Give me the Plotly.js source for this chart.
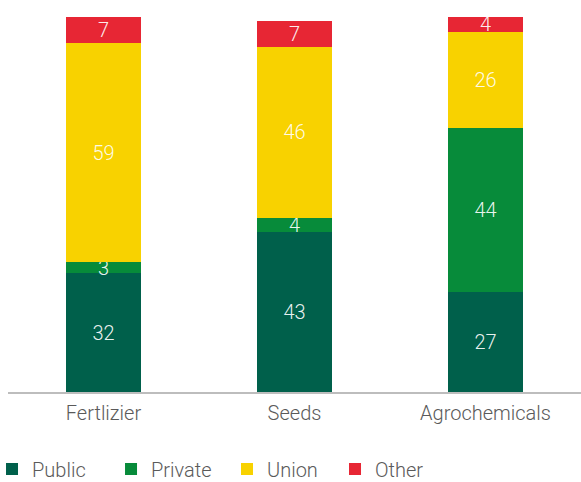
<!DOCTYPE html>
<html>
<head>
<meta charset="utf-8">
<script src="https://cdn.plot.ly/plotly-3.0.1.min.js"></script>
<style>html,body{margin:0;padding:0;background:#fff;}#chart{width:581px;height:482px;}</style>
</head>
<body>
<div id="chart"></div>
<script>
const categories = ["Fertlizier", "Seeds", "Agrochemicals"];
const publicVals = [32, 43, 27];
const privateVals = [3, 4, 44];
const unionVals = [59, 46, 26];
const otherVals = [7, 7, 4];
const seriesNames = ["Public", "Private", "Union", "Other"];
const seriesColors = ["#00604b", "#078b3a", "#f8d200", "#e72634"];
const seriesVals = [publicVals, privateVals, unionVals, otherVals];
const legendIds = ["legend", "legend2", "legend3", "legend4"];
const legendX = [-0.0279, 0.1798, 0.3822, 0.5707];

const traces = seriesVals.map((vals, i) => ({
  type: "bar",
  name: seriesNames[i],
  legend: legendIds[i],
  x: categories,
  y: vals,
  text: vals.map(String),
  textposition: "inside",
  insidetextanchor: "middle",
  textangle: 0,
  constraintext: "none",
  textfont: {color: "rgba(255,255,255,0.92)", size: 20, family: "Roboto, sans-serif", weight: 300},
  marker: {color: seriesColors[i], line: {width: 0}},
  width: 0.39,
  hoverinfo: "none"
}));

const layout = {
  width: 581,
  height: 482,
  barmode: "stack",
  margin: {l: 8, r: 0, t: 17, b: 90, autoexpand: false},
  paper_bgcolor: "#ffffff",
  plot_bgcolor: "#ffffff",
  font: {family: "Roboto, sans-serif", size: 20, color: "#5a5a5a"},
  xaxis: {
    type: "category",
    range: [-0.5, 2.5],
    showline: true,
    linecolor: "#bdbdbd",
    linewidth: 2,
    showgrid: false,
    zeroline: false,
    ticks: "",
    automargin: false,
    ticklabelstandoff: 2,
    tickfont: {size: 20, color: "#5a5a5a", weight: 300}
  },
  yaxis: {
    range: [0, 101],
    visible: false,
    showgrid: false,
    zeroline: false
  },
  showlegend: true
};

legendIds.forEach((id, i) => {
  layout[id] = {
    orientation: "h",
    x: legendX[i],
    xanchor: "left",
    y: -0.2053,
    yanchor: "middle",
    bgcolor: "rgba(0,0,0,0)",
    font: {size: 20, color: "#5a5a5a", weight: 300}
  };
});

Plotly.newPlot("chart", traces, layout, {displayModeBar: false, staticPlot: true});
</script>
</body>
</html>
